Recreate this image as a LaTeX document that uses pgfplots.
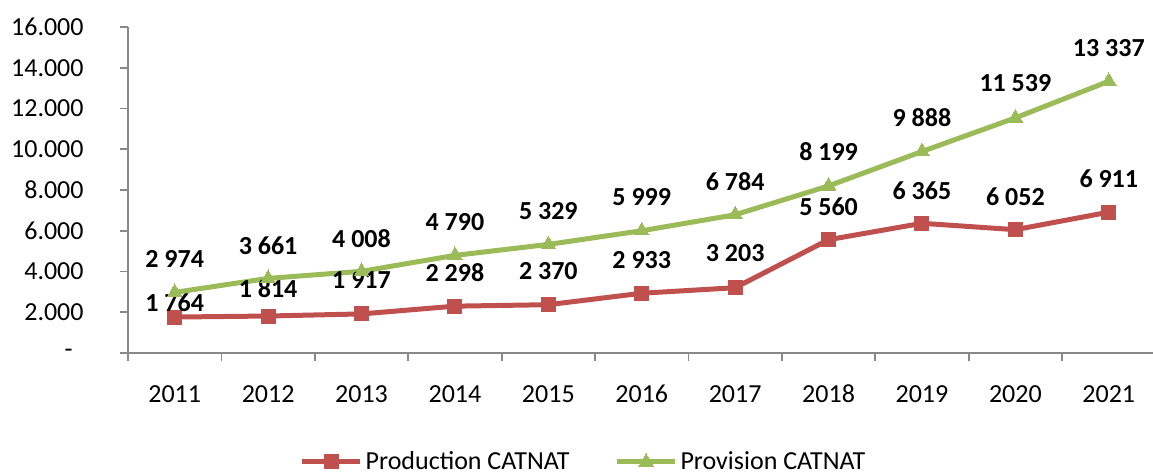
\documentclass[border=0pt]{standalone}
\usepackage{pgfplots}
\usepackage{pgfplotstable}
\usepackage{fontspec}
\setmainfont{Carlito}
\pgfplotsset{compat=1.18}
\definecolor{cred}{HTML}{C0504D}
\definecolor{cgreen}{HTML}{9BBB59}
\definecolor{caxis}{HTML}{898989}
\pgfplotstableread{
x y dy
0 1764 7
1 1814 13.5
2 1917 17
3 2298 17
4 2370 17
5 2933 16.5
6 3203 17.5
7 5560 16.5
8 6365 16.5
9 6052 16.5
10 6911 16.5
}\production
\pgfplotstableread{
x y dy
0 2974 16.5
1 3661 16.5
2 4008 16.5
3 4790 16.5
4 5329 16.5
5 5999 17
6 6784 16.5
7 8199 17
8 9888 16.8
9 11539 17.5
10 13337 16.5
}\provision
\newcommand{\ff}{\fontsize{13pt}{15.6pt}\selectfont}
\begin{document}
\begin{tikzpicture}
\useasboundingbox (0,0) rectangle (576.5pt,237pt);
\begin{axis}[
  at={(64pt,60.5pt)}, anchor=south west,
  scale only axis, width=513.75pt, height=163pt,
  xmin=-0.5, xmax=10.5, ymin=0, ymax=16000,
  scaled y ticks=false,
  axis lines*=left,
  axis line style={draw=caxis, line width=0.9pt},
  tick align=outside,
  xtick={0,...,10},
  xticklabels={2011,2012,2013,2014,2015,2016,2017,2018,2019,2020,2021},
  major x tick style={draw=none},
  minor xtick={-0.5,0.5,...,10.5},
  minor tick length=4pt,
  minor x tick style={draw=caxis, line width=0.9pt},
  ytick={0,2000,...,16000},
  yticklabels={{-\hspace*{5.5pt}},2.000,4.000,6.000,8.000,10.000,12.000,14.000,16.000},
  major tick length=4pt,
  y tick style={draw=caxis, line width=0.9pt},
  tick label style={font=\ff, text=black},
  xticklabel style={anchor=center, yshift=-16.5pt},
  yticklabel style={anchor=east, inner sep=0pt, xshift=-18pt},
  clip=false,
  legend style={at={(0.4438,-0.3344)}, anchor=center, draw=none, fill=none,
    legend columns=2, font=\ff, inner sep=0pt,
    /tikz/every even column/.append style={column sep=21pt},
    nodes={inner sep=1.5pt}},
  legend image code/.code={%
    \draw[#1, mark=none] (0pt,0pt) -- (29pt,0pt);
    \draw[#1, line width=0pt] plot coordinates {(14.5pt,0pt)};},
  nodes near coords={\pgfmathprintnumber[1000 sep={\ }, assume math mode=true, fixed, precision=0]{\pgfplotspointmeta}},
  every node near coord/.append style={font=\ff\bfseries, text=black, anchor=center, yshift=\dy pt},
  visualization depends on={\thisrow{dy} \as \dy},
  point meta=explicit,
]
\addplot[cred, line width=2.5pt, mark=square*, mark size=3.5pt, mark options={solid, fill=cred, draw=cred, line width=0pt}]
  table[x=x, y=y, meta=y] {\production};
\addlegendentry{Production CATNAT}
\addplot[cgreen, line width=2.5pt, mark=triangle*, mark size=4.2pt, mark options={solid, fill=cgreen, draw=cgreen, line width=0pt}]
  table[x=x, y=y, meta=y] {\provision};
\addlegendentry{Provision CATNAT}
\end{axis}
\end{tikzpicture}
\end{document}
